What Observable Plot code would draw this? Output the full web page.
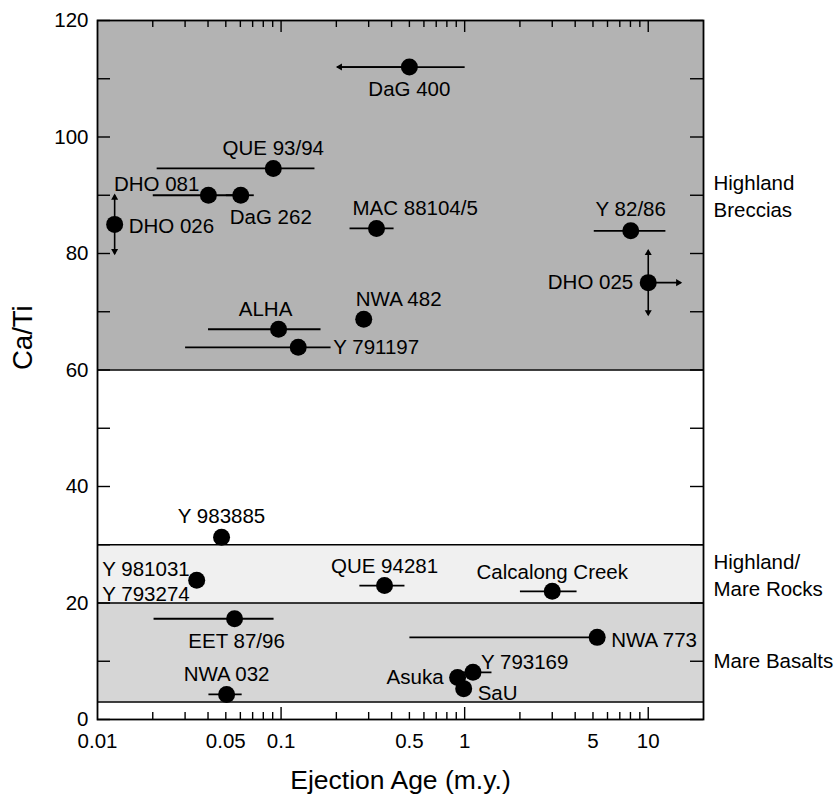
<!DOCTYPE html>
<html>
<head>
<meta charset="utf-8">
<script src="https://cdn.jsdelivr.net/npm/d3@7"></script>
<script src="https://cdn.jsdelivr.net/npm/@observablehq/plot@0.6"></script>
<style>
  body { margin: 0; background: #fff; }
  #chart svg { font-family: "Liberation Sans", Arial, Helvetica, sans-serif; }
</style>
</head>
<body>
<div id="chart"></div>
<script>
// ---------- data ----------
const names = ["DaG 400", "QUE 93/94", "DHO 081", "DaG 262", "DHO 026", "MAC 88104/5", "Y 82/86", "DHO 025",
  "NWA 482", "ALHA", "Y 791197", "Y 983885", "Y 981031\nY 793274", "QUE 94281", "Calcalong Creek",
  "EET 87/96", "NWA 773", "NWA 032", "Asuka", "Y 793169", "SaU"];
const ages   = [0.5, 0.0907, 0.0402, 0.0603, 0.0124, 0.331, 8.03, 10, 0.282, 0.0969, 0.124, 0.0474, 0.0347,
  0.366, 3.0, 0.0558, 5.27, 0.0505, 0.915, 1.11, 0.988];
const ratios = [112, 94.6, 90, 90, 85, 84.3, 83.9, 75, 68.7, 67, 63.9, 31.3, 23.9, 23, 22, 17.3, 14.1, 4.3, 7.2, 8.1, 5.3];
const ageLow  = [0.203, 0.021, 0.020, 0.050, null, 0.236, 5.05, null, null, 0.040, 0.030, null, null,
  0.267, 2.0, 0.0202, 0.5, 0.0402, null, 0.85, null];
const ageHigh = [1.0, 0.152, 0.060, 0.071, null, 0.41, 12.4, null, null, 0.164, 0.186, null, null,
  0.47, 4.07, 0.091, 5.27, 0.061, null, 1.40, null];

// limits drawn as arrows (from the point to the given age or ratio)
const limitName  = ["DaG 400", "DHO 026", "DHO 026", "DHO 025", "DHO 025", "DHO 025"];
const limitAge   = [0.203, null, null, 15.0, null, null];
const limitRatio = [null, 90, 80, null, 80.5, 69.5];

const bandNames = ["Highland\nBreccias", "Highland/\nMare Rocks", "Mare Basalts"];
const bandLow  = [60, 20, 3];
const bandHigh = [120, 30, 20];

const xTickLabels = [0.01, 0.05, 0.1, 0.5, 1, 5, 10];
const xMajorTicks = [0.1, 1, 10];
const xMinorTicks = [0.02, 0.03, 0.04, 0.05, 0.06, 0.07, 0.08, 0.09,
  0.2, 0.3, 0.4, 0.5, 0.6, 0.7, 0.8, 0.9, 2, 3, 4, 5, 6, 7, 8, 9];
const yTickLabels = [0, 20, 40, 60, 80, 100, 120];
const yTicks = [0, 10, 20, 30, 40, 50, 60, 70, 80, 90, 100, 110, 120];

// ---------- styles / layout ----------
const bandFill = ["#b3b3b3", "#f0f0f0", "#d6d6d6"];
const bandLabelDy = [0, 0, 7];
const labelLayout = {
  "DaG 400": ["middle", 0, 21],
  "QUE 93/94": ["middle", 0, -22],
  "DHO 081": ["end", -9, -12],
  "DaG 262": ["start", -11, 21],
  "DHO 026": ["start", 14, 0],
  "MAC 88104/5": ["start", -24, -22],
  "Y 82/86": ["middle", 0, -23],
  "DHO 025": ["end", -15, -2],
  "NWA 482": ["start", -8, -22],
  "ALHA": ["middle", -13, -21],
  "Y 791197": ["start", 35, -1],
  "Y 983885": ["middle", 0, -22],
  "Y 981031\nY 793274": ["end", -7, 0],
  "QUE 94281": ["middle", 0, -21],
  "Calcalong Creek": ["middle", 0, -21],
  "EET 87/96": ["middle", 2, 21],
  "NWA 773": ["start", 14, 1],
  "NWA 032": ["middle", 0, -22],
  "Asuka": ["end", -14, -2],
  "Y 793169": ["start", 8, -12],
  "SaU": ["start", 14, 3]
};

// ---------- tables ----------
const points = names.map((name, i) => ({name, age: ages[i], ratio: ratios[i], lo: ageLow[i], hi: ageHigh[i]}));
const errors = points.filter(d => d.lo != null);
const byName = new Map(points.map(d => [d.name, d]));
const limits = limitName.map((n, i) => {
  const p = byName.get(n);
  const x2 = limitAge[i] != null ? limitAge[i] : p.age;
  const y2 = limitRatio[i] != null ? limitRatio[i] : p.ratio;
  let dir;
  if (limitAge[i] != null) dir = x2 < p.age ? "left" : "right";
  else dir = y2 > p.ratio ? "up" : "down";
  return {x1: p.age, y1: p.ratio, x2, y2, dir};
});
const bands = bandNames.map((name, i) => ({name, lo: bandLow[i], hi: bandHigh[i], fill: bandFill[i], mid: (bandLow[i] + bandHigh[i]) / 2, dy: bandLabelDy[i]}));
const bandEdges = Array.from(new Set([...bandLow, ...bandHigh])).filter(v => v !== 120 && v !== 0);

const xDomain = [0.01, 20];
const W = 840, H = 800, mT = 20, mB = 81, mL = 97, mR = 137;
const fw = W - mL - mR, fh = H - mT - mB;
const fontLabel = 20.5;

const headOff = 2.4; // shift of the triangle centre behind the arrow tip
const headMarks = [
  ["left", -90, headOff, 0], ["right", 90, -headOff, 0], ["up", 0, 0, headOff], ["down", 180, 0, -headOff]
].map(([dir, rot, dx, dy]) => Plot.dot(limits.filter(d => d.dir === dir), {
  x: "x2", y: "y2", symbol: "triangle", r: 2.6, rotate: rot, dx, dy, fill: "black", stroke: "none"
}));

const labelMarks = points.map(d => {
  const [anchor, dx, dy] = labelLayout[d.name];
  return Plot.text([d], {x: "age", y: "ratio", text: "name", textAnchor: anchor, dx, dy,
    fontSize: fontLabel, lineHeight: 1.25, fill: "black"});
});

const chart = Plot.plot({
  width: W, height: H,
  marginTop: mT, marginBottom: mB, marginLeft: mL, marginRight: mR,
  x: {type: "log", domain: xDomain, axis: null},
  y: {domain: [0, 120]},
  style: {background: "white", color: "black", fontSize: "20px", fontFamily: "'Liberation Sans', Arial, sans-serif"},
  marks: [
    Plot.rect(bands, {x1: () => xDomain[0], x2: () => xDomain[1], y1: "lo", y2: "hi", fill: "fill"}),
    Plot.ruleY(bandEdges, {y: d => d, stroke: "black", strokeWidth: 1.4}),
    // ticks (inside the frame)
    Plot.ruleX(xMajorTicks, {x: d => d, insetTop: fh - 12, stroke: "black", strokeWidth: 1.4}),
    Plot.ruleX(xMinorTicks, {x: d => d, insetTop: fh - 7, stroke: "black", strokeWidth: 1.4}),
    Plot.ruleX(xMajorTicks, {x: d => d, insetBottom: fh - 12, stroke: "black", strokeWidth: 1.4}),
    Plot.ruleX(xMinorTicks, {x: d => d, insetBottom: fh - 7, stroke: "black", strokeWidth: 1.4}),
    Plot.ruleY(yTicks, {y: d => d, insetRight: fw - 13, stroke: "black", strokeWidth: 1.4}),
    Plot.ruleY(yTicks, {y: d => d, insetLeft: fw - 13, stroke: "black", strokeWidth: 1.4}),
    Plot.frame({stroke: "black", strokeWidth: 1.8}),
    // x tick labels
    Plot.text(xTickLabels, {x: d => d, text: d => String(d), frameAnchor: "bottom", lineAnchor: "top", dy: 14, fontSize: 20.5, fill: "black"}),
    Plot.axisY({ticks: yTickLabels, tickFormat: d => String(d), tickSize: 0, tickPadding: 9, label: null, fontSize: 20.5}),
    // error bars and limit arrows
    Plot.link(errors, {x1: "lo", x2: "hi", y1: "ratio", y2: "ratio", stroke: "black", strokeWidth: 1.8}),
    Plot.link(limits, {x1: "x1", y1: "y1", x2: "x2", y2: "y2", stroke: "black", strokeWidth: 1.6}),
    ...headMarks,
    Plot.dot(points, {x: "age", y: "ratio", r: 8.5, fill: "black", stroke: "none"}),
    ...labelMarks,
    // band names at the right
    ...bands.map(b => Plot.text([b], {y: "mid", text: "name", frameAnchor: "right", dx: 10, dy: b.dy,
      textAnchor: "start", lineHeight: 1.3, fontSize: fontLabel, fill: "black"})),
    // axis titles
    Plot.text(["Ejection Age (m.y.)"], {frameAnchor: "bottom", dy: 69, fontSize: 26.5, fill: "black"}),
    Plot.text(["Ca/Ti"], {frameAnchor: "left", dx: -74, rotate: -90, fontSize: 27.5, fill: "black"})
  ]
});
document.getElementById("chart").appendChild(chart);
</script>
</body>
</html>
